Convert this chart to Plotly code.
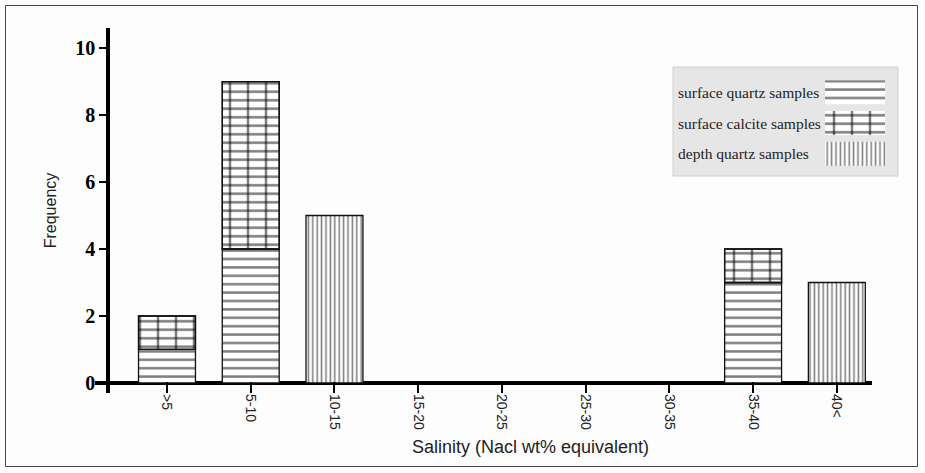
import plotly.graph_objects as go

categories = [">5", "5-10", "10-15", "15-20", "20-25", "25-30", "30-35", "35-40", "40<"]
series_names = ["surface quartz samples", "surface calcite samples", "depth quartz samples"]
surface_quartz = [1, 4, 0, 0, 0, 0, 0, 3, 0]
surface_calcite = [1, 5, 0, 0, 0, 0, 0, 1, 0]
depth_quartz = [0, 0, 5, 0, 0, 0, 0, 0, 3]
y_ticks = [0, 2, 4, 6, 8, 10]

series_values = [surface_quartz, surface_calcite, depth_quartz]
series_bases = [[0] * len(categories), surface_quartz, [0] * len(categories)]

# each fill is built from one or more overlaid line patterns
hline = dict(shape="-", size=8.4, solidity=0.3, fgcolor="black", bgcolor="white")
brick_rows = dict(shape="-", size=8.5, solidity=0.3, fgcolor="black", bgcolor="white")
brick_joints = dict(shape="|", size=18, solidity=0.14, fgcolor="black", bgcolor="rgba(0,0,0,0)")
vline = dict(shape="|", size=4.4, solidity=0.36, fgcolor="black", bgcolor="white")
fills = [[hline], [brick_rows, brick_joints], [vline]]

W, H = 925, 473
L, R, T, B = 95, 30, 28, 80
PW = W - L - R
PH = H - T - B


def px_x(px):
    return (px - L) / PW


def px_y(py):
    return (H - B - py) / PH


fig = go.Figure()
for name, vals, base, layers in zip(series_names, series_values, series_bases, fills):
    for k, pat in enumerate(layers):
        fig.add_trace(go.Bar(
            x=categories,
            y=[v if v else None for v in vals],
            base=base,
            name=name,
            width=0.68,
            marker=dict(color="white" if k == 0 else "rgba(0,0,0,0)", pattern=pat,
                        line=dict(color="#111", width=1.3)),
            showlegend=False,
            xaxis="x", yaxis="y",
        ))

# custom legend: swatches on the right of the labels
for name, layers in zip(series_names, fills):
    for k, pat in enumerate(layers):
        fig.add_trace(go.Bar(
            x=[1], y=[name], orientation="h", width=0.78,
            marker=dict(color="white" if k == 0 else "rgba(0,0,0,0)", pattern=pat,
                        line=dict(width=0)),
            showlegend=False, xaxis="x2", yaxis="y2", hoverinfo="skip",
        ))
    fig.add_annotation(
        x=px_x(676), xref="paper", xanchor="left",
        y=name, yref="y2", yanchor="middle",
        text=name, showarrow=False,
        font=dict(family="Liberation Serif", size=15.5, color="#222"),
    )

fig.update_layout(
    width=W, height=H,
    margin=dict(l=L, r=R, t=T, b=B, autoexpand=False),
    paper_bgcolor="#fdfdfd", plot_bgcolor="rgba(0,0,0,0)",
    barmode="overlay",
    showlegend=False,
    xaxis=dict(
        domain=[0, (872 - L) / PW],
        range=[-0.86, 8.42],
        type="category", automargin=False,
        showline=False, showgrid=False, zeroline=False,
        ticks="inside", ticklen=11, tickwidth=2, tickcolor="black",
        tickangle=90,
        tickfont=dict(family="Liberation Sans", size=14, color="#222"),
    ),
    yaxis=dict(
        anchor="free", position=13 / PW, automargin=False,
        range=[-0.3, 10.6],
        tickvals=y_ticks,
        showline=True, linewidth=3.5, linecolor="black",
        showgrid=False,
        zeroline=True, zerolinewidth=3.5, zerolinecolor="black",
        ticks="outside", ticklen=7, tickwidth=2, tickcolor="black",
        tickfont=dict(family="Liberation Serif", size=20, color="black", weight="bold"),
        title=dict(text="Frequency", standoff=14,
                   font=dict(family="Liberation Sans", size=16, color="#222")),
    ),
    xaxis2=dict(domain=[px_x(825), px_x(885)], range=[0, 1], anchor="y2",
                visible=False, fixedrange=True, automargin=False),
    yaxis2=dict(domain=[px_y(169), px_y(77)], anchor="x2", type="category",
                autorange="reversed", visible=False, fixedrange=True, automargin=False),
    shapes=[
        dict(type="rect", xref="paper", yref="paper",
             x0=px_x(673), x1=px_x(898), y0=px_y(176), y1=px_y(67),
             fillcolor="#e6e6e6", line=dict(color="#cfcfcf", width=1), layer="below"),
        dict(type="rect", xref="paper", yref="paper",
             x0=px_x(5.5), x1=px_x(917.5), y0=px_y(466.5), y1=px_y(5.5),
             fillcolor="rgba(0,0,0,0)", line=dict(color="#444", width=1), layer="below"),
    ],
    annotations=list(fig.layout.annotations) + [
        dict(text="Salinity (Nacl wt% equivalent)", x=px_x(530), y=px_y(447),
             xref="paper", yref="paper", xanchor="center", yanchor="middle",
             showarrow=False, font=dict(family="Liberation Sans", size=18, color="#222")),
    ],
)

fig.write_html(
    "out.html",
    config={"displayModeBar": False},
    post_script="document.body.style.margin='0px';document.body.style.overflow='hidden';",
)
